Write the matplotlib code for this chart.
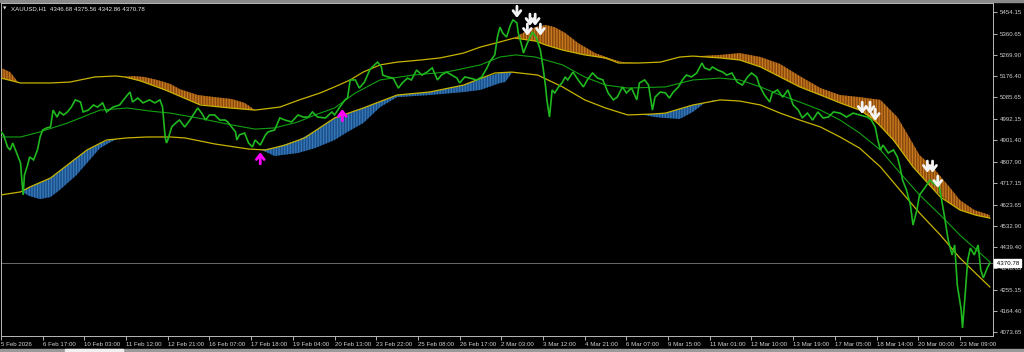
import numpy as np
import matplotlib
matplotlib.use("Agg")
import matplotlib.pyplot as plt
from matplotlib.transforms import offset_copy, blended_transform_factory
from matplotlib.patches import Rectangle

plt.rcParams['font.family'] = ['Liberation Sans', 'DejaVu Sans']
plt.rcParams['hatch.linewidth'] = 0.9

# ---------------- data (bar index = H1 bar number) ----------------
symbol_title = "XAUUSD,H1  4346.68 4375.56 4342.86 4370.78"
last_close = 4370.78

x_tick_bars = list(range(0, 24 * 32, 32))
x_tick_labels = ["5 Feb 2026", "6 Feb 17:00", "10 Feb 03:00", "11 Feb 12:00", "12 Feb 21:00",
                 "16 Feb 07:00", "17 Feb 18:00", "19 Feb 04:00", "20 Feb 13:00", "23 Feb 22:00",
                 "25 Feb 08:00", "26 Feb 17:00", "2 Mar 03:00", "3 Mar 12:00", "4 Mar 21:00",
                 "6 Mar 07:00", "9 Mar 15:00", "11 Mar 01:00", "12 Mar 10:00", "13 Mar 19:00",
                 "17 Mar 05:00", "18 Mar 14:00", "20 Mar 00:00", "23 Mar 09:00"]
y_tick_values = [5454.15, 5360.65, 5269.90, 5176.40, 5085.65, 4992.15, 4901.40, 4807.90,
                 4717.15, 4623.65, 4532.90, 4439.40, 4348.65, 4255.15, 4164.40, 4073.65]

price_bar = [0, 2, 5, 7, 9, 12, 15, 16, 17, 18, 20, 22, 25, 28, 30, 32, 35, 38, 40, 43, 45, 48, 51, 54,
             57, 61, 63, 67, 71, 74, 78, 81, 86, 91, 97, 99, 101, 105, 109, 114, 118, 122, 124, 126,
             127, 128, 131, 134, 137, 141, 145, 149, 151, 154, 157, 160, 164, 168, 172, 174, 177,
             180, 181, 183, 187, 190, 193, 195, 199, 203, 205, 210, 214, 218, 223, 228, 232, 236,
             239, 243, 249, 254, 256, 260, 264, 266, 268, 272, 275, 279, 283, 285, 289, 292, 293,
             297, 301, 305, 308, 312, 315, 319, 323, 327, 331, 335, 338, 342, 346, 350, 352, 356,
             360, 365, 369, 373, 375, 379, 381, 383, 385, 388, 391, 393, 396, 397, 400, 401, 404,
             406, 408, 411, 414, 416, 418, 419, 421, 423, 425, 428, 431, 433, 435, 439, 443, 447,
             450, 454, 458, 462, 466, 470, 473, 477, 480, 484, 488, 490, 494, 497, 500, 502, 506,
             510, 513, 516, 520, 523, 526, 530, 534, 538, 540, 544, 546, 550, 554, 557, 561, 565,
             569, 573, 576, 580, 582, 586, 590, 592, 596, 600, 604, 608, 612, 615, 619, 623, 627,
             631, 635, 639, 644, 649, 654, 659, 665, 668, 671, 673, 675, 677, 681, 685, 688, 690,
             692, 695, 698, 700, 703, 705, 709, 713, 717, 719, 722, 724, 727, 730, 732, 734, 737,
             738, 740, 742, 744, 747, 750, 752, 754, 757, 759]
price_close = [4937, 4924, 4872, 4859, 4889, 4846, 4803, 4729, 4665, 4751, 4786, 4829, 4816, 4859,
               4915, 4945, 4954, 4958, 5031, 5001, 5023, 5010, 5023, 5044, 5075, 5066, 5023, 5031,
               5053, 5044, 5062, 5023, 5044, 5053, 5096, 5109, 5066, 5083, 5062, 5075, 5062, 5075,
               5044, 4915, 4889, 4902, 4958, 4975, 4988, 4958, 4988, 5023, 5040, 5018, 4988, 5010,
               5010, 4988, 4988, 4980, 4958, 4937, 4902, 4924, 4932, 4889, 4872, 4902, 4880, 4924,
               4937, 4945, 4997, 4988, 4980, 5010, 5001, 5001, 5023, 5001, 4997, 5023, 5010, 5044,
               5075, 5083, 5161, 5161, 5126, 5152, 5204, 5217, 5238, 5217, 5182, 5174, 5169, 5126,
               5148, 5169, 5161, 5204, 5182, 5195, 5213, 5161, 5182, 5195, 5182, 5169, 5148, 5174,
               5169, 5161, 5174, 5213, 5238, 5269, 5346, 5389, 5364, 5346, 5398, 5420, 5407, 5364,
               5303, 5277, 5320, 5346, 5368, 5342, 5290, 5217, 5131, 5075, 5001, 5118, 5105, 5131,
               5152, 5174, 5161, 5195, 5161, 5131, 5161, 5191, 5169, 5161, 5105, 5075, 5087, 5131,
               5105, 5126, 5075, 5148, 5161, 5139, 5031, 5087, 5109, 5105, 5083, 5109, 5131, 5161,
               5182, 5174, 5191, 5234, 5213, 5204, 5217, 5204, 5195, 5182, 5191, 5152, 5139, 5174,
               5191, 5174, 5139, 5096, 5066, 5105, 5118, 5087, 5118, 5053, 5031, 4997, 5018, 4988,
               5023, 4997, 5001, 5023, 5018, 5001, 5018, 5010, 5001, 4988, 4958, 4902, 4859, 4880,
               4846, 4859, 4829, 4786, 4729, 4686, 4622, 4535, 4600, 4665, 4695, 4729, 4708, 4738,
               4643, 4578, 4471, 4406, 4449, 4276, 4169, 4091, 4233, 4384, 4436, 4406, 4449, 4341,
               4307, 4350, 4370.78]

upper_bar = [0, 15, 38, 53, 72, 88, 95, 107, 126, 153, 176, 195, 214, 229, 245, 256, 268, 278, 291,
             304, 322, 337, 355, 368, 383, 394, 410, 418, 431, 448, 464, 474, 489, 506, 521, 531,
             552, 567, 583, 598, 613, 629, 644, 659, 669, 685, 700, 721, 736, 748, 759]
upper_band = [5169, 5148, 5148, 5152, 5174, 5178, 5174, 5157, 5118, 5053, 5040, 5031, 5044, 5075,
              5105, 5131, 5161, 5195, 5226, 5238, 5247, 5256, 5277, 5303, 5325, 5342, 5329, 5312,
              5290, 5269, 5256, 5234, 5234, 5238, 5260, 5264, 5256, 5247, 5217, 5174, 5131, 5096,
              5062, 5031, 4997, 4902, 4786, 4656, 4600, 4578, 4565]

mid_bar = [0, 15, 30, 51, 76, 97, 114, 130, 151, 177, 195, 210, 228, 241, 256, 272, 291, 316, 342,
           368, 383, 395, 410, 431, 448, 464, 481, 510, 531, 552, 567, 583, 598, 613, 629, 644, 659,
           675, 690, 705, 721, 736, 759]
mid_line = [4915, 4915, 4937, 4975, 5031, 5040, 5027, 5018, 4997, 4967, 4949, 4954, 4980, 5010,
            5040, 5105, 5161, 5182, 5195, 5226, 5260, 5269, 5260, 5226, 5174, 5139, 5126, 5131,
            5161, 5169, 5161, 5131, 5096, 5066, 5031, 4988, 4932, 4859, 4760, 4665, 4578, 4492, 4376]

lower_bar = [0, 15, 22, 38, 53, 66, 81, 97, 112, 130, 141, 164, 190, 203, 218, 233, 256, 278, 304,
             329, 355, 379, 392, 412, 431, 448, 464, 481, 500, 510, 531, 552, 567, 583, 598, 613,
             629, 644, 659, 675, 690, 705, 721, 736, 747, 759]
lower_band = [4665, 4678, 4699, 4738, 4803, 4859, 4902, 4911, 4915, 4915, 4911, 4885, 4863, 4859,
              4880, 4911, 4997, 5040, 5096, 5109, 5139, 5191, 5195, 5182, 5131, 5075, 5040, 5010,
              5014, 5018, 5053, 5075, 5070, 5053, 5018, 4988, 4958, 4915, 4867, 4786, 4686, 4587,
              4492, 4393, 4333, 4268]

# bearish cloud (above upper band), segments
bear1_bar = [0, 7, 13]
bear1_top = [5213, 5195, 5152]
bear2_bar = [94, 101, 110, 120, 130, 137, 151, 164, 177, 187, 195]
bear2_top = [5174, 5178, 5174, 5161, 5144, 5122, 5096, 5087, 5079, 5062, 5031]
bear3_bar = [394, 402, 410, 418, 425, 433, 443, 456, 469, 477, 490]
bear3_top = [5342, 5368, 5389, 5398, 5389, 5364, 5320, 5277, 5251, 5238, 5234]
bear4_bar = [536, 552, 567, 583, 598, 613, 629, 644, 659, 675, 688, 697, 705, 715, 728, 736, 747, 759]
bear4_top = [5264, 5269, 5277, 5260, 5230, 5178, 5126, 5096, 5087, 5075, 5001, 4915, 4837, 4786,
             4699, 4643, 4600, 4578]

# bullish cloud (below lower band), segments
bull1_bar = [16, 22, 30, 38, 45, 58, 68, 76, 84, 89]
bull1_bot = [4678, 4660, 4647, 4656, 4686, 4751, 4816, 4867, 4893, 4906]
bull2_bar = [200, 210, 228, 241, 256, 266, 278, 291, 304, 329, 355, 368, 383, 387, 392]
bull2_bot = [4859, 4833, 4846, 4867, 4902, 4937, 4975, 5044, 5087, 5096, 5109, 5118, 5148, 5152, 5191]
bull3_bar = [490, 502, 510, 521, 531, 540, 548]
bull3_bot = [5014, 5001, 4997, 4993, 5023, 5062, 5075]

sell_bar = [396, 406, 410, 404, 414, 661, 667, 671, 711, 715, 719]
sell_price = [5454, 5420, 5420, 5377, 5377, 5040, 5040, 5010, 4786, 4786, 4721]
buy_bar = [199, 262]
buy_price = [4824, 5010]

# ---------------- drawing ----------------
W, H = 1024, 352
fig = plt.figure(figsize=(W / 100, H / 100), dpi=100, facecolor='black')
ax = fig.add_axes([1 / W, 16 / H, 992 / W, 333 / H], facecolor='black')
ax.set_xlim(0, 761.4)
ax.set_ylim(4056.4, 5493.0)

ORANGE_FACE, ORANGE_HATCH = '#8a4a0c', '#c87a22'
BLUE_FACE, BLUE_HATCH = '#1c4f86', '#3579bb'

def fill_seg(bars, edge, band_bar, band_val, face, hatch_col):
    bars = np.asarray(bars, float)
    base = np.interp(bars, band_bar, band_val)
    ax.fill_between(bars, base, edge, facecolor=face, edgecolor=hatch_col,
                    hatch='||||||', linewidth=0, zorder=1)

for b, t in [(bear1_bar, bear1_top), (bear2_bar, bear2_top), (bear3_bar, bear3_top), (bear4_bar, bear4_top)]:
    fill_seg(b, t, upper_bar, upper_band, ORANGE_FACE, ORANGE_HATCH)
for b, t in [(bull1_bar, bull1_bot), (bull2_bar, bull2_bot), (bull3_bar, bull3_bot)]:
    fill_seg(b, t, lower_bar, lower_band, BLUE_FACE, BLUE_HATCH)

ax.plot(upper_bar, upper_band, color='#c8b400', lw=0.9, zorder=3)
ax.plot(lower_bar, lower_band, color='#c8b400', lw=0.9, zorder=3)
ax.plot(mid_bar, mid_line, color='#12a012', lw=0.8, zorder=3)

# current price line
ax.axhline(last_close, color='#7a7a7a', lw=0.6, zorder=2)

ax.plot(price_bar, price_close, color='#1fb81f', lw=1.2, zorder=4, solid_joinstyle='miter')

# signal arrows
def arrow(b, p, up, color):
    tip = offset_copy(ax.transData, fig=fig, y=(4.2 if up else -4.2), units='points')
    tail = offset_copy(ax.transData, fig=fig, y=(-4.2 if up else 4.2), units='points')
    ax.annotate('', xy=(b, p), xycoords=tip, xytext=(b, p), textcoords=tail,
                arrowprops=dict(arrowstyle='->,head_length=0.45,head_width=0.35', lw=2.0,
                                color=color, shrinkA=0, shrinkB=0, mutation_scale=8),
                zorder=6)

for b, p in zip(sell_bar, sell_price):
    arrow(b, p, False, '#f4f4f4')
for b, p in zip(buy_bar, buy_price):
    arrow(b, p, True, '#ff00ff')

# axes styling
for s in ax.spines.values():
    s.set_color('#b8b8b8')
    s.set_linewidth(0.7)
ax.yaxis.tick_right()
ax.set_yticks(y_tick_values)
ax.set_yticklabels([f"{v:.2f}" for v in y_tick_values])
ax.set_xticks(x_tick_bars)
ax.set_xticklabels(x_tick_labels)
ax.tick_params(axis='y', direction='out', length=3, width=0.6, colors='#cfcfcf', labelsize=4.4, pad=2)
ax.tick_params(axis='x', direction='out', length=3, width=0.6, colors='#cfcfcf', labelsize=4.4, pad=1.5)
for lbl in ax.get_xticklabels():
    lbl.set_ha('left')

# current price box
tr = blended_transform_factory(ax.transAxes, ax.transData)
ax.text(1.0, last_close, ' ' + f"{last_close:.2f}", transform=offset_copy(tr, fig=fig, x=1.5, units='points'),
        ha='left', va='center', fontsize=4.4, color='black', clip_on=False, zorder=10,
        bbox=dict(facecolor='white', edgecolor='white', boxstyle='square,pad=0.25'))

# title
fig.text(3 / W, 1 - 9 / H, '\u25bc', fontsize=3.2, color='#e0e0e0', va='center', ha='left',
         family=['DejaVu Sans'])
fig.text(11 / W, 1 - 9 / H, symbol_title, fontsize=4.4, color='#e8e8e8', va='center', ha='left')

# window frame bits
fig.add_artist(Rectangle((0, 0), 1, 3 / H, transform=fig.transFigure, color='#9a9a9a', zorder=0))
fig.add_artist(Rectangle((65 / W, 0), 58 / W, 3 / H, transform=fig.transFigure, color='#f0f0f0', zorder=1))
fig.add_artist(Rectangle((0, 1 - 1.5 / H), 1, 1.5 / H, transform=fig.transFigure, color='#8a8a8a', zorder=0))

fig.savefig('out.png', dpi=100, facecolor='black')
